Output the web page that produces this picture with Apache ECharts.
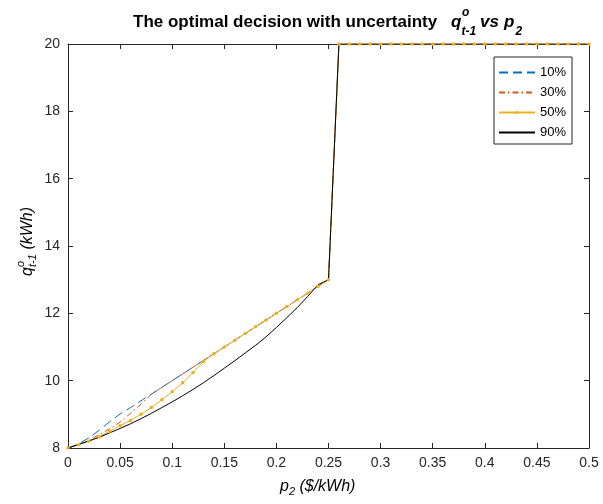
<!DOCTYPE html>
<html>
<head>
<meta charset="utf-8">
<script src="https://cdn.jsdelivr.net/npm/echarts@6/dist/echarts.min.js"></script>
<style>html,body{margin:0;padding:0;background:#fff;}#c{width:603px;height:504px;}</style>
</head>
<body>
<div id="c"></div>
<script>
var xValues = [0,0.01,0.02,0.03,0.04,0.05,0.06,0.07,0.08,0.09,0.10,0.11,0.12,0.13,0.14,0.15,0.16,0.17,0.18,0.19,0.20,0.21,0.22,0.23,0.24,0.25,0.26,0.27,0.28,0.29,0.30,0.31,0.32,0.33,0.34,0.35,0.36,0.37,0.38,0.39,0.40,0.41,0.42,0.43,0.44,0.45,0.46,0.47,0.48,0.49,0.50];
var q10 = [8,8.12,8.30,8.53,8.78,9.01,9.20,9.40,9.60,9.80,10.00,10.20,10.40,10.60,10.80,11.00,11.20,11.40,11.60,11.80,12.00,12.20,12.40,12.60,12.80,13.00,20,20,20,20,20,20,20,20,20,20,20,20,20,20,20,20,20,20,20,20,20,20,20,20,20];
var q30 = [8,8.10,8.22,8.40,8.57,8.77,9.03,9.30,9.60,9.80,10.00,10.20,10.40,10.60,10.80,11.00,11.20,11.40,11.60,11.80,12.00,12.20,12.40,12.60,12.80,13.00,20,20,20,20,20,20,20,20,20,20,20,20,20,20,20,20,20,20,20,20,20,20,20,20,20];
var q50 = [8,8.10,8.20,8.33,8.50,8.66,8.82,9.00,9.20,9.43,9.67,9.94,10.24,10.57,10.80,11.00,11.20,11.40,11.60,11.80,12.00,12.20,12.40,12.60,12.80,13.00,20,20,20,20,20,20,20,20,20,20,20,20,20,20,20,20,20,20,20,20,20,20,20,20,20];
var q90 = [8,8.10,8.21,8.32,8.45,8.58,8.72,8.87,9.03,9.20,9.37,9.55,9.74,9.94,10.15,10.37,10.59,10.82,11.05,11.30,11.58,11.87,12.17,12.50,12.85,13.00,20,20,20,20,20,20,20,20,20,20,20,20,20,20,20,20,20,20,20,20,20,20,20,20,20];
var seriesNames = ['10%','30%','50%','90%'];
var yTicks = [8,10,12,14,16,18,20];

function pairs(ys){ return xValues.map(function(x,i){ return [x, ys[i]]; }); }

var FONT = '"Liberation Sans", Arial, Helvetica, sans-serif';
var AX = '#262626';

var chart = echarts.init(document.getElementById('c'), null, {renderer:'canvas'});

function axisCommon(){
  return {
    axisLine:{show:true, onZero:false, lineStyle:{color:AX, width:1}},
    axisTick:{show:true, inside:true, length:5, lineStyle:{color:AX, width:1}},
    splitLine:{show:false}
  };
}

var xBottom = Object.assign(axisCommon(), {
  type:'value', position:'bottom', min:0, max:0.5, interval:0.05,
  axisLabel:{color:AX, fontSize:14, fontFamily:FONT, margin:8,
    formatter:function(v){ return String(+v.toFixed(2)); }}
});
var xTop = Object.assign(axisCommon(), {
  type:'value', position:'top', min:0, max:0.5, interval:0.05,
  axisLabel:{show:false}
});
var yLeft = Object.assign(axisCommon(), {
  type:'value', position:'left', min:yTicks[0], max:yTicks[yTicks.length-1], interval:2,
  axisLabel:{color:AX, fontSize:14, fontFamily:FONT, margin:8}
});
var yRight = Object.assign(axisCommon(), {
  type:'value', position:'right', min:yTicks[0], max:yTicks[yTicks.length-1], interval:2,
  axisLabel:{show:false}
});

var titleFont = 'bold 17px ' + FONT;
var titleIt = 'italic bold 17px ' + FONT;
var titleSub = 'italic bold 12px ' + FONT;
var lblIt = 'italic 16px ' + FONT;
var lblSub = 'italic 11px ' + FONT;

function t(x,y,text,font,align){
  return {type:'text', x:x, y:y, style:{text:text, font:font, fill:'#000', textAlign:align||'left', textVerticalAlign:'middle'}};
}

var option = {
  animation:false,
  backgroundColor:'#fff',
  grid:{left:68, right:14, top:44, bottom:56, containLabel:false},
  xAxis:[xBottom, xTop],
  yAxis:[yLeft, yRight],
  legend:{
    orient:'vertical', left:494, top:57,
    data:[
      {name:seriesNames[0], itemStyle:{opacity:0}},
      {name:seriesNames[1], itemStyle:{opacity:0}},
      {name:seriesNames[2]},
      {name:seriesNames[3], itemStyle:{opacity:0}}
    ],
    itemWidth:36, itemHeight:4, itemGap:5,
    padding:[8,6,4,4],
    borderColor:'#262626', borderWidth:1, backgroundColor:'#fff',
    textStyle:{color:'#000', fontSize:13, fontFamily:FONT, lineHeight:15}
  },
  series:[
    {name:seriesNames[0], type:'line', data:pairs(q10), symbol:'none', lineStyle:{color:'#0072BD', width:1, type:[9,5]}, itemStyle:{color:'#0072BD'}},
    {name:seriesNames[1], type:'line', data:pairs(q30), symbol:'none', lineStyle:{color:'#D95319', width:1, type:[6,3,1.5,3]}, itemStyle:{color:'#D95319'}},
    {name:seriesNames[2], type:'line', data:pairs(q50), symbol:'circle', symbolSize:3.5, showSymbol:true, lineStyle:{color:'#EDB120', width:1}, itemStyle:{color:'#EDB120'}},
    {name:seriesNames[3], type:'line', data:pairs(q90), symbol:'none', lineStyle:{color:'#000000', width:1}, itemStyle:{color:'#000000'}}
  ],
  graphic:[
    {type:'group', x:328, y:22, children:[
      t(-195, 0, 'The optimal decision with uncertainty', titleFont),
      t(123, 0, 'q', titleIt),
      t(134, -9, 'o', titleSub),
      t(133.5, 10, 't-1', titleSub),
      t(152, 0, 'vs', titleIt),
      t(176, 0, 'p', titleIt),
      t(187.5, 10, '2', titleSub)
    ]},
    {type:'group', x:318, y:487, children:[
      t(-38, 0, 'p', lblIt),
      t(-29, 5, '2', lblSub),
      t(-23, 0, ' ($/kWh)', lblIt)
    ]},
    {type:'group', x:28, y:243, rotation:Math.PI/2, children:[
      t(-33, 0, 'q', lblIt),
      t(-24, -7, 'o', lblSub),
      t(-24, 5, 't-1', lblSub),
      t(-11, 0, ' (kWh)', lblIt)
    ]}
  ]
};
chart.setOption(option);
</script>
</body>
</html>
